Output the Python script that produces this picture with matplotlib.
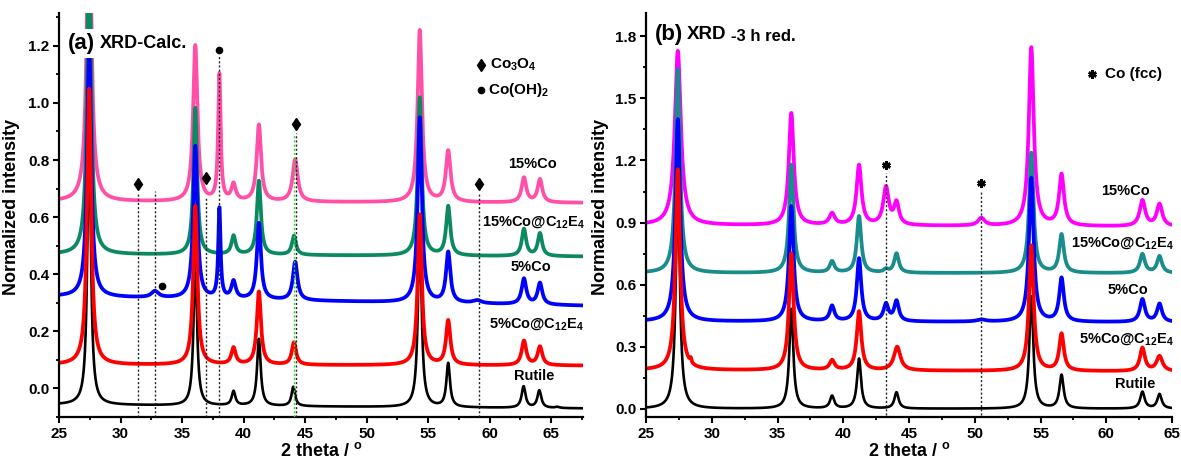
import numpy as np
import matplotlib
matplotlib.use("Agg")
import matplotlib.pyplot as plt
from matplotlib.ticker import MultipleLocator, FormatStrFormatter

plt.rcParams['font.family'] = ['Liberation Sans', 'DejaVu Sans']
plt.rcParams['font.weight'] = 'bold'
plt.rcParams['mathtext.fontset'] = 'custom'
plt.rcParams['mathtext.rm'] = 'Liberation Sans:bold'
plt.rcParams['mathtext.bf'] = 'Liberation Sans:bold'
plt.rcParams['mathtext.it'] = 'Liberation Sans:bold'
plt.rcParams['mathtext.default'] = 'bf'

# ---------------- Panel (a) data: XRD calcined ----------------
xa_range = [25.0, 67.6]
# peak centres (2theta), peak tops (absolute normalized intensity), FWHM, linear baseline (start, end)
rut_a_pos = [27.45, 36.08, 39.19, 41.25, 44.05, 54.33, 56.64, 62.77, 64.05, 65.5]
rut_a_top = [0.94, 0.46, -0.008, 0.174, 0.006, 0.56, 0.09, 0.008, -0.006, -0.064]
rut_a_wid = [0.33, 0.33, 0.35, 0.35, 0.35, 0.35, 0.35, 0.38, 0.38, 0.4]
rut_a_base = [-0.057, -0.07]

r5c_a_pos = [27.45, 36.08, 39.19, 41.25, 44.1, 54.33, 56.64, 62.8, 64.1]
r5c_a_top = [1.05, 0.64, 0.145, 0.34, 0.162, 0.61, 0.24, 0.168, 0.148]
r5c_a_wid = [0.4, 0.4, 0.42, 0.4, 0.42, 0.4, 0.42, 0.45, 0.45]
r5c_a_base = [0.083, 0.080]

b5_a_pos = [27.45, 32.8, 36.08, 38.04, 39.19, 41.25, 44.2, 54.33, 56.64, 59.0, 62.8, 64.1]
b5_a_top = [1.2, 0.342, 0.85, 0.635, 0.38, 0.58, 0.444, 0.95, 0.48, 0.31, 0.386, 0.371]
b5_a_wid = [0.4, 0.7, 0.4, 0.22, 0.42, 0.4, 0.45, 0.4, 0.42, 0.8, 0.45, 0.45]
b5_a_base = [0.322, 0.290]

g15c_a_pos = [27.45, 36.08, 39.19, 41.25, 44.1, 54.33, 56.64, 62.8, 64.1]
g15c_a_top = [1.6, 0.983, 0.537, 0.728, 0.535, 1.02, 0.64, 0.56, 0.545]
g15c_a_wid = [0.38, 0.36, 0.4, 0.38, 0.4, 0.38, 0.4, 0.42, 0.42]
g15c_a_base = [0.470, 0.462]

p15_a_pos = [27.45, 36.08, 36.94, 38.04, 39.19, 41.25, 44.2, 54.33, 56.64, 62.8, 64.1]
p15_a_top = [1.8, 1.203, 0.69, 1.105, 0.722, 0.925, 0.803, 1.256, 0.835, 0.74, 0.734]
p15_a_wid = [0.42, 0.42, 0.5, 0.24, 0.42, 0.42, 0.5, 0.42, 0.45, 0.45, 0.45]
p15_a_base = [0.655, 0.650]

# markers / reference lines (a)
co3o4_x = [31.41, 36.94, 44.24, 59.12]
co3o4_y = [0.717, 0.736, 0.925, 0.717]
cooh_x = [38.04, 33.4]
cooh_y = [1.186, 0.36]
vline_a_x = [31.41, 32.79, 36.94, 38.04, 44.24, 59.12]
vline_a_top = [0.685, 0.693, 0.67, 1.169, 0.896, 0.685]
gline_a_x = [44.09]
gline_a_top = [0.89]

labels_a = ['15%Co', r'15%Co@C$_{12}$E$_4$', '5%Co', r'5%Co@C$_{12}$E$_4$', 'Rutile']
labels_a_x = [63.5, 63.55, 63.4, 63.85, 63.6]
labels_a_y = [0.786, 0.583, 0.427, 0.227, 0.044]

# ---------------- Panel (b) data: XRD after 3 h reduction ----------------
xb_range = [25.0, 65.0]
rut_b_pos = [27.42, 36.05, 39.15, 41.2, 44.05, 54.3, 56.6, 62.75, 64.05]
rut_b_top = [1.1, 0.483, 0.064, 0.243, 0.08, 0.544, 0.165, 0.083, 0.072]
rut_b_wid = [0.36, 0.36, 0.38, 0.36, 0.38, 0.36, 0.38, 0.4, 0.4]
rut_b_base = [0.0, 0.0]

r5c_b_pos = [27.42, 28.4, 36.05, 39.15, 41.2, 44.1, 54.3, 56.6, 62.75, 64.05]
r5c_b_top = [1.158, 0.25, 0.752, 0.237, 0.472, 0.30, 0.79, 0.365, 0.296, 0.256]
r5c_b_wid = [0.42, 0.12, 0.42, 0.45, 0.42, 0.6, 0.42, 0.42, 0.45, 0.55]
r5c_b_base = [0.187, 0.180]

b5_b_pos = [27.42, 36.05, 39.15, 41.2, 43.25, 44.05, 50.5, 54.3, 56.6, 62.75, 64.05]
b5_b_top = [1.40, 0.98, 0.50, 0.728, 0.512, 0.525, 0.432, 1.117, 0.635, 0.531, 0.509]
b5_b_wid = [0.42, 0.42, 0.42, 0.4, 0.45, 0.42, 0.8, 0.42, 0.42, 0.45, 0.45]
b5_b_base = [0.422, 0.418]

t15c_b_pos = [27.42, 36.05, 39.15, 41.2, 43.25, 44.05, 54.3, 56.6, 62.75, 64.05]
t15c_b_top = [1.64, 1.18, 0.715, 0.932, 0.68, 0.752, 1.238, 0.845, 0.749, 0.739]
t15c_b_wid = [0.4, 0.4, 0.42, 0.4, 0.4, 0.42, 0.4, 0.42, 0.45, 0.45]
t15c_b_base = [0.656, 0.655]

m15_b_pos = [27.42, 36.05, 39.15, 41.2, 43.25, 44.05, 50.5, 54.3, 56.6, 62.75, 64.05]
m15_b_top = [1.73, 1.43, 0.948, 1.18, 1.077, 1.008, 0.924, 1.748, 1.137, 1.01, 0.992]
m15_b_wid = [0.55, 0.45, 0.5, 0.45, 0.5, 0.45, 0.6, 0.45, 0.45, 0.5, 0.5]
m15_b_base = [0.888, 0.880]

cofcc_x = [43.24, 50.46]
cofcc_y = [1.178, 1.093]
vline_b_x = [43.24, 50.46]
vline_b_top = [1.141, 1.053]

labels_b = ['15%Co', r'15%Co@C$_{12}$E$_4$', '5%Co', r'5%Co@C$_{12}$E$_4$', 'Rutile']
labels_b_x = [61.5, 61.25, 61.65, 61.5, 62.2]
labels_b_y = [1.053, 0.80, 0.576, 0.336, 0.12]


def profile(x, pos, top, wid, base, xr):
    """Sum of Lorentzian peaks on a linear baseline, amplitudes solved so the
    curve passes through the read peak tops."""
    pos = np.asarray(pos); top = np.asarray(top); wid = np.asarray(wid)
    def bl(v):
        return base[0] + (base[1] - base[0]) * (v - xr[0]) / (xr[1] - xr[0])
    M = 1.0 / (1.0 + ((pos[:, None] - pos[None, :]) / (wid[None, :] / 2)) ** 2)
    amp = np.linalg.solve(M, top - bl(pos))
    y = bl(x) + (amp[None, :] / (1.0 + ((x[:, None] - pos[None, :]) / (wid[None, :] / 2)) ** 2)).sum(axis=1)
    return y


fig = plt.figure(figsize=(11.81, 4.62), dpi=100)
W, H = 1181.0, 462.0
ax1 = fig.add_axes([59 / W, 45 / H, 524 / W, 404 / H])
ax2 = fig.add_axes([646 / W, 45 / H, 526 / W, 404 / H])

xa = np.linspace(xa_range[0], xa_range[1], 6000)
xb = np.linspace(xb_range[0], xb_range[1], 6000)

c_pink = '#ff4fa7'
c_green = '#0b8a62'
c_teal = '#1a8c8c'
c_blue = '#0000ff'
c_red = '#ff0000'
c_mag = '#ff00ff'

LW_C = 2.7
LW_K = 1.9

# ---- panel a curves (draw order: black, pink, green, blue, red)
series_a = [
    (rut_a_pos, rut_a_top, rut_a_wid, rut_a_base, 'black', LW_K),
    (p15_a_pos, p15_a_top, p15_a_wid, p15_a_base, c_pink, LW_C),
    (g15c_a_pos, g15c_a_top, g15c_a_wid, g15c_a_base, c_green, LW_C),
    (b5_a_pos, b5_a_top, b5_a_wid, b5_a_base, c_blue, LW_C),
    (r5c_a_pos, r5c_a_top, r5c_a_wid, r5c_a_base, c_red, LW_C),
]
for pos, top, wid, base, col, lw in series_a:
    ax1.plot(xa, profile(xa, pos, top, wid, base, xa_range), color=col, lw=lw, zorder=2)

ylo_a = -0.10
ax1.vlines(vline_a_x, ylo_a, vline_a_top, colors='#222222', linestyles=(0, (1.5, 1.5)), lw=1.0, zorder=3)
ax1.vlines(gline_a_x, ylo_a, gline_a_top, colors='#33dd33', linestyles=(0, (1.5, 1.5)), lw=1.0, zorder=3)
ax1.plot(co3o4_x, co3o4_y, 'd', color='black', ms=6, zorder=4)
ax1.plot(cooh_x, cooh_y, 'o', color='black', ms=4.5, zorder=4)

# legend (a)
ax1.plot([59.3], [1.134], 'd', color='black', ms=6)
ax1.text(60.0, 1.134, r'Co$_3$O$_4$', fontsize=11, fontweight='bold', va='center', ha='left')
ax1.plot([59.3], [1.045], 'o', color='black', ms=4.5)
ax1.text(59.9, 1.045, r'Co(OH)$_2$', fontsize=11, fontweight='bold', va='center', ha='left')

ax1.text(25.7, 1.209, '(a)', fontsize=16, fontweight='bold', va='center', ha='left', zorder=5,
         bbox=dict(facecolor='white', edgecolor='none', pad=3))
ax1.text(28.3, 1.209, 'XRD-Calc.', fontsize=13, fontweight='bold', va='center', ha='left', zorder=5)

for t, x, y in zip(labels_a, labels_a_x, labels_a_y):
    ax1.text(x, y, t, fontsize=10.5, fontweight='bold', ha='center', va='center', zorder=5)

ax1.set_xlim(*xa_range)
ax1.set_ylim(ylo_a, 1.315)
ax1.xaxis.set_major_locator(MultipleLocator(5))
ax1.xaxis.set_minor_locator(MultipleLocator(2.5))
ax1.yaxis.set_major_locator(MultipleLocator(0.2))
ax1.yaxis.set_minor_locator(MultipleLocator(0.1))
ax1.yaxis.set_major_formatter(FormatStrFormatter('%.1f'))

# ---- panel b curves
series_b = [
    (rut_b_pos, rut_b_top, rut_b_wid, rut_b_base, 'black', LW_K),
    (m15_b_pos, m15_b_top, m15_b_wid, m15_b_base, c_mag, LW_C),
    (t15c_b_pos, t15c_b_top, t15c_b_wid, t15c_b_base, c_teal, LW_C),
    (b5_b_pos, b5_b_top, b5_b_wid, b5_b_base, c_blue, LW_C),
    (r5c_b_pos, r5c_b_top, r5c_b_wid, r5c_b_base, c_red, LW_C),
]
for pos, top, wid, base, col, lw in series_b:
    ax2.plot(xb, profile(xb, pos, top, wid, base, xb_range), color=col, lw=lw, zorder=2)

ylo_b = -0.04
ax2.vlines(vline_b_x, -0.03, vline_b_top, colors='#222222', linestyles=(0, (1.5, 1.5)), lw=1.0, zorder=3)
ax2.plot(cofcc_x, cofcc_y, marker=(6, 2, 0), ls='none', color='black', ms=6, mew=1.8, zorder=4)
ax2.plot([58.9], [1.616], marker=(6, 2, 0), ls='none', color='black', ms=6, mew=1.8)
ax2.text(59.9, 1.616, 'Co (fcc)', fontsize=11, fontweight='bold', va='center', ha='left')

ax2.text(25.68, 1.807, '(b)', fontsize=16, fontweight='bold', va='center', ha='left', zorder=5)
ax2.text(28.1, 1.807, 'XRD', fontsize=13.5, fontweight='bold', va='center', ha='left', zorder=5)
ax2.text(31.5, 1.80, '-3 h red.', fontsize=12, fontweight='bold', va='center', ha='left', zorder=5)

for t, x, y in zip(labels_b, labels_b_x, labels_b_y):
    ax2.text(x, y, t, fontsize=10.5, fontweight='bold', ha='center', va='center', zorder=5)

ax2.set_xlim(*xb_range)
ax2.set_ylim(ylo_b, 1.913)
ax2.xaxis.set_major_locator(MultipleLocator(5))
ax2.xaxis.set_minor_locator(MultipleLocator(2.5))
ax2.yaxis.set_major_locator(MultipleLocator(0.3))
ax2.yaxis.set_minor_locator(MultipleLocator(0.15))
ax2.yaxis.set_major_formatter(FormatStrFormatter('%.1f'))

for ax in (ax1, ax2):
    for s in ('top', 'right'):
        ax.spines[s].set_visible(False)
    for s in ('left', 'bottom'):
        ax.spines[s].set_linewidth(1.6)
    ax.tick_params(which='major', direction='out', length=4, width=1.5, labelsize=11, pad=3)
    ax.tick_params(which='minor', direction='out', length=2.5, width=1.3)
    for lab in ax.get_xticklabels() + ax.get_yticklabels():
        lab.set_fontweight('bold')
    ax.set_xlabel(r'2 theta / $^{o}$', fontsize=13, fontweight='bold', labelpad=1)
    ax.set_ylabel('Normalized intensity', fontsize=13, fontweight='bold')

ax1.yaxis.set_label_coords(-0.075, 0.52)
ax2.yaxis.set_label_coords(-0.07, 0.52)

fig.savefig('out.png', dpi=100)
